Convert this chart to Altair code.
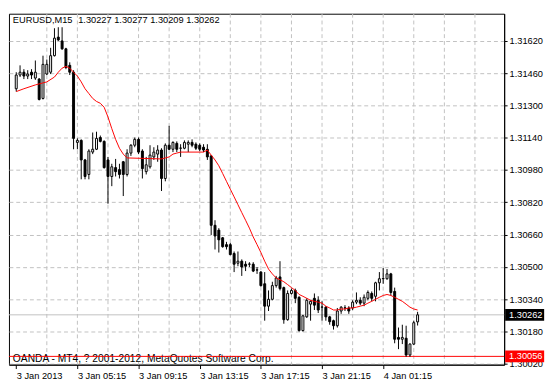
import altair as alt
import pandas as pd

# EURUSD M15 candles, prices written as points (0.00001) above 1.30000
opens = [1383, 1451, 1465, 1446, 1465, 1436, 1431, 1335, 1456, 1465,
         1547, 1639, 1620, 1581, 1499, 1465, 1117, 1127, 1030, 958,
         1069, 1083, 1141, 1122, 1030, 948, 992, 982, 1021, 958,
         1064, 1103, 1132, 1074, 972, 996, 1045, 1059, 1079, 938,
         1103, 1083, 1112, 1088, 1088, 1108, 1117, 1108, 1103, 1093,
         1083, 1050, 706, 682, 644, 610, 610, 566, 518, 528,
         513, 513, 513, 484, 474, 416, 305, 339, 407, 450,
         397, 238, 368, 383, 349, 184, 252, 315, 344, 334,
         300, 300, 252, 233, 208, 281, 296, 296, 296, 325,
         334, 320, 344, 368, 354, 421, 441, 441, 465, 378,
         150, 141, 146, 63, 117, 227]
highs = [1465, 1499, 1480, 1475, 1480, 1523, 1436, 1547, 1528, 1586,
         1683, 1688, 1688, 1586, 1514, 1475, 1137, 1132, 1035, 1083,
         1166, 1170, 1151, 1127, 1045, 1011, 1035, 1011, 1025, 1083,
         1108, 1141, 1141, 1083, 1045, 1103, 1093, 1103, 1088, 1112,
         1199, 1122, 1122, 1108, 1127, 1127, 1132, 1117, 1112, 1108,
         1108, 1054, 731, 692, 648, 624, 619, 576, 576, 537,
         528, 523, 523, 499, 479, 474, 383, 426, 455, 528,
         402, 383, 392, 392, 354, 262, 344, 334, 368, 354,
         329, 305, 257, 238, 296, 305, 310, 305, 334, 373,
         349, 363, 383, 378, 426, 474, 494, 489, 470, 397,
         199, 213, 208, 121, 233, 277]
lows = [1369, 1441, 1431, 1431, 1431, 1427, 1325, 1330, 1451, 1456,
        1543, 1620, 1576, 1480, 1451, 1083, 1083, 934, 934, 934,
        1059, 1079, 1117, 987, 813, 900, 948, 938, 851, 948,
        1050, 1093, 1059, 938, 958, 987, 1030, 1021, 876, 924,
        1079, 1069, 1069, 1045, 1083, 1069, 1093, 1079, 1074, 1069,
        1030, 658, 586, 571, 595, 586, 557, 474, 503, 455,
        479, 499, 474, 465, 402, 233, 281, 334, 397, 383,
        218, 233, 363, 320, 179, 179, 247, 233, 286, 271,
        233, 233, 213, 189, 199, 267, 281, 267, 286, 315,
        310, 305, 334, 329, 329, 383, 416, 436, 358, 121,
        92, 117, 54, 54, 112, 209]
closes = [1451, 1465, 1446, 1456, 1451, 1465, 1330, 1504, 1504, 1547,
          1634, 1625, 1581, 1489, 1465, 1137, 1127, 1030, 948, 1074,
          1083, 1137, 1122, 992, 948, 996, 972, 958, 958, 1064,
          1103, 1132, 1069, 987, 1006, 1054, 1069, 1079, 938, 1103,
          1083, 1117, 1083, 1089, 1117, 1117, 1103, 1088, 1083, 1079,
          1045, 706, 653, 634, 600, 600, 561, 513, 528, 499,
          503, 514, 479, 485, 407, 305, 339, 407, 445, 392,
          238, 368, 383, 344, 184, 257, 334, 329, 310, 286,
          301, 252, 228, 208, 281, 300, 297, 281, 325, 334,
          320, 349, 373, 344, 421, 441, 442, 465, 373, 141,
          141, 150, 63, 117, 223, 262]

# moving average (red line), read at these bars
ma_bar = [0, 2, 5, 7, 8, 10, 11, 12, 13, 14, 15, 16, 17, 18, 19, 20, 21, 22,
          23, 24, 25, 26, 27, 28, 29, 38, 39, 40, 41, 42, 43, 49,
          50, 51, 52, 53, 54, 55, 56, 57, 58, 59, 60, 61, 62, 63, 64, 65,
          66, 67, 68, 69, 70, 71, 72, 73, 74, 75, 76, 77, 78, 79, 80, 81,
          82, 83, 84, 85, 86, 87, 88, 89, 90, 91, 92, 93, 94, 95, 96, 97,
          98, 99, 100, 101, 102, 103, 104, 105]
ma_pts = [1369, 1383, 1402, 1412, 1417, 1441, 1465, 1485, 1494, 1485, 1465, 1446,
          1417, 1383, 1359, 1335, 1320, 1311, 1291, 1243, 1185, 1132, 1088, 1059,
          1040, 1035, 1040, 1045, 1059, 1064, 1069, 1069,
          1079, 1054, 1030, 1001, 963, 924, 885, 847, 808, 769, 731, 692, 648, 610,
          571, 528, 489, 465, 445, 436, 426, 412, 397, 383, 363, 354, 344, 334,
          329, 325, 320, 305, 296, 286, 286, 291, 291, 296, 296, 300, 305, 310,
          320, 329, 339, 349, 358, 363, 358, 349, 339, 329, 315, 300, 291, 286]

tick_bars = [0, 16, 32, 48, 64, 80, 96]
tick_labels = ["3 Jan 2013", "3 Jan 05:15", "3 Jan 09:15", "3 Jan 13:15",
               "3 Jan 17:15", "3 Jan 21:15", "4 Jan 01:15"]
grid_bars = [8, 16, 24, 32, 40, 48, 56, 64, 72, 80, 88, 96, 104, 112, 120]
price_ticks = [1.30020, 1.30180, 1.30340, 1.30500, 1.30660, 1.30820,
               1.30980, 1.31140, 1.31300, 1.31460, 1.31620]
bid_price = 1.30262
level_price = 1.30056
symbol_text = "EURUSD,M15"
ohlc_text = ["1.30227", "1.30277", "1.30209", "1.30262"]
copyright_text = "OANDA - MT4, ? 2001-2012, MetaQuotes Software Corp."

W, H = 508, 360
FONT = "Liberation Sans"
FS = 9.5


def price(v):
    return round(1.3 + v / 100000.0, 5)


candles = pd.DataFrame({
    "i": list(range(len(opens))),
    "open": [price(v) for v in opens],
    "high": [price(v) for v in highs],
    "low": [price(v) for v in lows],
    "close": [price(v) for v in closes],
})
ma_df = pd.DataFrame({"i": ma_bar, "ma": [price(v) for v in ma_pts]})
grid_df = pd.DataFrame({"g": grid_bars})
bid_df = pd.DataFrame({"p": [bid_price]})
level_df = pd.DataFrame({"p": [level_price]})
tag_df = pd.DataFrame({"p": [bid_price, level_price],
                       "t": [f"{bid_price:.5f}", f"{level_price:.5f}"],
                       "c": ["black", "#ff0000"]})
copy_df = pd.DataFrame({"t": [copyright_text]})
sym_df = pd.DataFrame({"t": [symbol_text]})
ohlc_df = pd.DataFrame({"t": [" ".join(ohlc_text)]})

label_expr = "''"
for b, lab in reversed(list(zip(tick_bars, tick_labels))):
    label_expr = f"datum.value == {b} ? '{lab}' : ({label_expr})"

xscale = alt.Scale(domain=[-0.625, 126.375], nice=False, zero=False)
yscale = alt.Scale(domain=[1.30015, 1.31755], nice=False, zero=False)

xaxis = alt.Axis(title=None, values=tick_bars, labelExpr=label_expr, grid=False,
                 tickSize=4, tickColor="black", domainColor="black",
                 labelAlign="left", labelBaseline="top", labelPadding=2,
                 labelFont=FONT, labelFontSize=FS, labelColor="black",
                 labelOverlap=False, labelFlush=False, labelBound=False)
yaxis = alt.Axis(title=None, orient="right", values=price_ticks, format=".5f",
                 grid=True, gridColor="#c0c0c0", gridDash=[4, 3], gridWidth=1,
                 tickSize=3, tickColor="black", domainColor="black",
                 labelPadding=2, labelFont=FONT, labelFontSize=FS,
                 labelColor="black", labelAlign="left", labelBaseline="middle",
                 labelOverlap=False, labelFlush=False, labelBound=False)


def X(f):
    return alt.X(f, type="quantitative", scale=xscale, axis=xaxis)


def Y(f):
    return alt.Y(f, type="quantitative", scale=yscale, axis=yaxis)


vgrid = alt.Chart(grid_df).mark_rule(color="#c0c0c0", strokeDash=[4, 3], strokeWidth=1).encode(
    x=X("g"), y=alt.value(0), y2=alt.value(H))
bid_line = alt.Chart(bid_df).mark_rule(color="#c0c0c0", strokeWidth=1).encode(
    y=Y("p"), x=alt.value(0), x2=alt.value(W))
copy_txt = alt.Chart(copy_df).mark_text(align="left", baseline="alphabetic", font=FONT,
                                        fontSize=10.5, color="black").encode(
    x=alt.value(4), y=alt.value(H - 3), text="t:N")
level_line = alt.Chart(level_df).mark_rule(color="#ff0000", strokeWidth=1).encode(
    y=Y("p"), x=alt.value(0), x2=alt.value(W))
wicks = alt.Chart(candles).mark_rule(color="black", strokeWidth=1).encode(
    x=X("i"), y=Y("low"), y2="high")
bodies = alt.Chart(candles).mark_bar(width=2, stroke="black", strokeWidth=1, opacity=1).encode(
    x=X("i"), y=Y("open"), y2="close",
    fill=alt.condition("datum.close >= datum.open", alt.value("white"), alt.value("black")))
ma_line = alt.Chart(ma_df).mark_line(color="#ff0000", strokeWidth=1).encode(
    x=X("i"), y=Y("ma"))
sym_txt = alt.Chart(sym_df).mark_text(align="left", baseline="alphabetic", font=FONT,
                                      fontSize=FS, color="black").encode(
    x=alt.value(4), y=alt.value(10), text="t:N")
ohlc_txt = alt.Chart(ohlc_df).mark_text(align="left", baseline="alphabetic", font=FONT,
                                        fontSize=FS, color="black").encode(
    x=alt.value(71), y=alt.value(10), text="t:N")
tags = alt.Chart(tag_df).mark_rule(strokeWidth=12, strokeCap="butt").encode(
    x=alt.value(W + 1), x2=alt.value(W + 41), y=Y("p"),
    color=alt.Color("c:N", scale=None))
tag_txt = alt.Chart(tag_df).mark_text(align="left", baseline="middle", font=FONT,
                                      fontSize=FS, color="white").encode(
    x=alt.value(W + 5), y=Y("p"), text="t:N")

chart = alt.layer(vgrid, bid_line, copy_txt, level_line, wicks, bodies, ma_line,
                  sym_txt, ohlc_txt, tags, tag_txt).properties(
    width=W, height=H,
    padding={"left": 0, "top": 0, "right": 0, "bottom": 0},
    background="white",
).configure_view(stroke="black", strokeWidth=1)

chart.save("out.html", embed_options={"renderer": "svg", "actions": False})
